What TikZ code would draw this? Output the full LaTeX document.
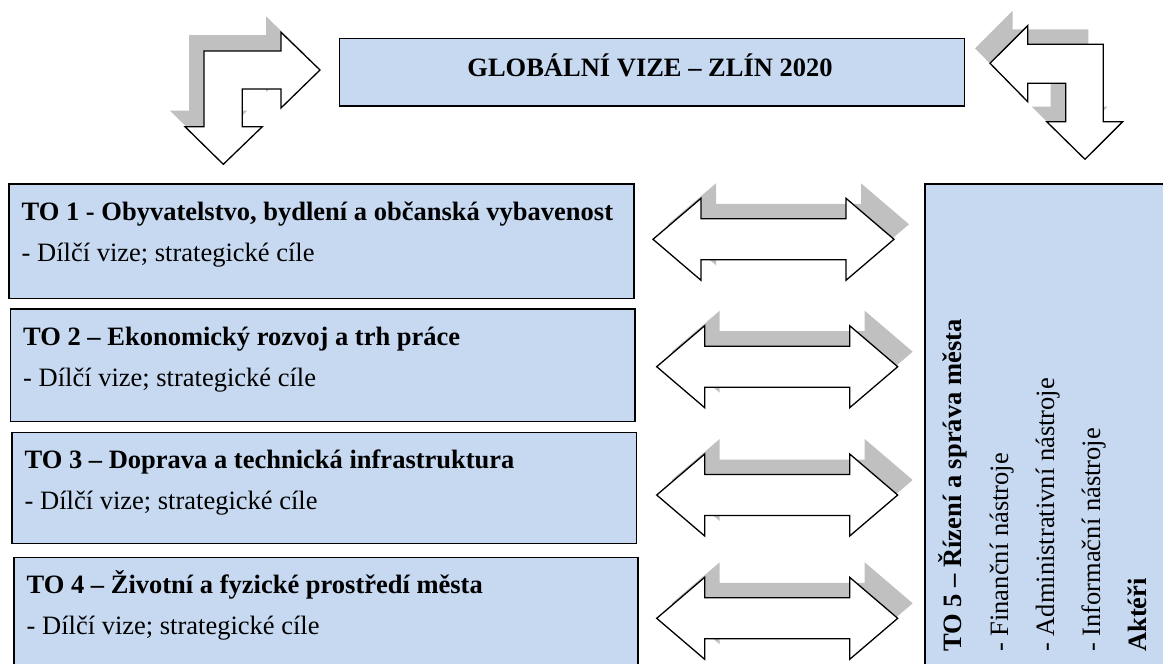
\documentclass[tikz,border=0pt]{standalone}
\usepackage{fontspec}
\setmainfont{Liberation Serif}
\definecolor{boxblue}{HTML}{C6D9F1}
\definecolor{shadowgray}{HTML}{C0C0C0}
\tikzset{
  panel/.style={draw=black, line width=1.5pt, fill=boxblue, anchor=north west, inner sep=0pt},
  blockarrow/.style={draw=black, line width=1.3pt, fill=white, line join=miter},
  arrowshadow/.style={fill=shadowgray, draw=none},
  titletext/.style={anchor=base west, inner sep=0pt, font=\fontsize{26.5}{30}\selectfont\bfseries},
  subtext/.style={anchor=base west, inner sep=0pt, font=\fontsize{26.5}{30}\selectfont},
  pics/dblarrow/.style={code={
    \fill[arrowshadow, shift={(15,-15)}] (0,0) -- (48,-41) -- (48,-20.5) -- (193,-20.5) -- (193,-41) -- (241,0) -- (193,41) -- (193,20.5) -- (48,20.5) -- (48,41) -- cycle;
    \draw[blockarrow] (0,0) -- (48,-41) -- (48,-20.5) -- (193,-20.5) -- (193,-41) -- (241,0) -- (193,41) -- (193,20.5) -- (48,20.5) -- (48,41) -- cycle;
  }}
}
\begin{document}
\begin{tikzpicture}[x=1pt,y=-1pt]
\useasboundingbox (0,0) rectangle (1163,664);
\clip (0,0) rectangle (1163,664);

% global vision box
\node[panel, minimum width=625pt, minimum height=67.5pt] (glob) at (338.5,37.5) {};
\node[anchor=base, inner sep=0pt, font=\fontsize{26.5}{30}\selectfont\bfseries] (globt) at (650,76) {GLOBÁLNÍ VIZE – ZLÍN 2020};

% left bent arrow
\fill[arrowshadow, shift={(-15,-16)}] (320,70) -- (281,108) -- (281,89) -- (242.3,89) -- (242.3,126.7) -- (262.3,126.7) -- (223.3,164.3) -- (185,126.7) -- (204,126.7) -- (204,51) -- (281,51) -- (281,32.3) -- cycle;
\draw[blockarrow] (320,70) -- (281,108) -- (281,89) -- (242.3,89) -- (242.3,126.7) -- (262.3,126.7) -- (223.3,164.3) -- (185,126.7) -- (204,126.7) -- (204,51) -- (281,51) -- (281,32.3) -- cycle;

% right bent arrow
\fill[arrowshadow, shift={(-15,-15)}] (990,63.3) -- (1027.7,25.7) -- (1027.7,44.3) -- (1103.3,44.3) -- (1103.3,121.7) -- (1122.7,121.7) -- (1085,159.3) -- (1046.7,121.7) -- (1065.7,121.7) -- (1065.7,83.3) -- (1027.7,83.3) -- (1027.7,101.7) -- cycle;
\draw[blockarrow] (990,63.3) -- (1027.7,25.7) -- (1027.7,44.3) -- (1103.3,44.3) -- (1103.3,121.7) -- (1122.7,121.7) -- (1085,159.3) -- (1046.7,121.7) -- (1065.7,121.7) -- (1065.7,83.3) -- (1027.7,83.3) -- (1027.7,101.7) -- cycle;

% thematic boxes
\node[panel, minimum width=625pt, minimum height=114.5pt] (to1) at (8,183) {};
\node[panel, minimum width=624.5pt, minimum height=112.5pt] (to2) at (9.5,308) {};
\node[panel, minimum width=624.5pt, minimum height=111pt] (to3) at (11,431.5) {};
\node[panel, minimum width=624pt, minimum height=130pt] (to4) at (13,556.5) {};

\node[titletext] (to1t) at ([xshift=13.5pt, yshift=-37pt]to1.north west) {TO 1 - Obyvatelstvo, bydlení a občanská vybavenost};
\node[subtext] (to1s) at ([xshift=13.5pt, yshift=-78pt]to1.north west) {- Dílčí vize; strategické cíle};
\node[titletext] (to2t) at ([xshift=13.5pt, yshift=-37pt]to2.north west) {TO 2 – Ekonomický rozvoj a trh práce};
\node[subtext] (to2s) at ([xshift=13.5pt, yshift=-78pt]to2.north west) {- Dílčí vize; strategické cíle};
\node[titletext] (to3t) at ([xshift=13.5pt, yshift=-37pt]to3.north west) {TO 3 – Doprava a technická infrastruktura};
\node[subtext] (to3s) at ([xshift=13.5pt, yshift=-78pt]to3.north west) {- Dílčí vize; strategické cíle};
\node[titletext] (to4t) at ([xshift=13.5pt, yshift=-37pt]to4.north west) {TO 4 – Životní a fyzické prostředí města};
\node[subtext] (to4s) at ([xshift=13.5pt, yshift=-78pt]to4.north west) {- Dílčí vize; strategické cíle};

% double arrows
\pic (d1) at (653,239.3) {dblarrow};
\pic (d2) at (656.7,366.7) {dblarrow};
\pic (d3) at (656.7,495) {dblarrow};
\pic (d4) at (656.7,618.3) {dblarrow};

% management box
\node[panel, minimum width=260pt, minimum height=500pt] (to5) at (924,183.3) {};
\node[titletext, rotate=90] (to5t) at (961,652) {TO 5 – Řízení a správa města};
\node[subtext, rotate=90] (to5a) at (1008,652) {- Finanční nástroje};
\node[subtext, rotate=90] (to5b) at (1054,652) {- Administrativní nástroje};
\node[subtext, rotate=90] (to5c) at (1100,652) {- Informační nástroje};
\node[titletext, rotate=90] (to5d) at (1146,652) {Aktéři};
\end{tikzpicture}
\end{document}
